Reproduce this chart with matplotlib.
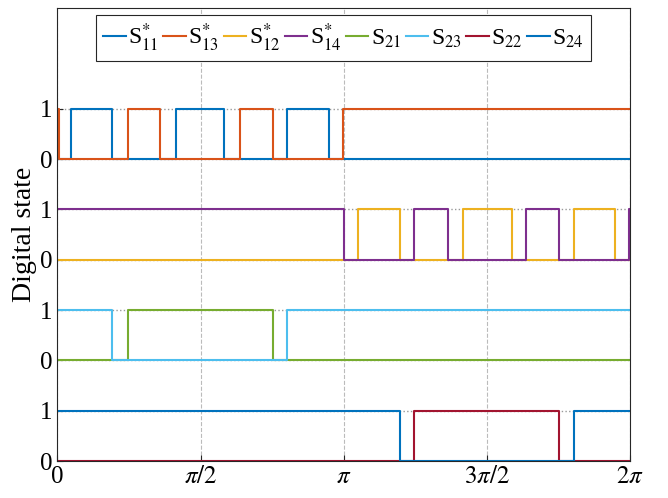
import numpy as np
import matplotlib.pyplot as plt

plt.rcParams['font.family'] = ['Liberation Serif', 'DejaVu Serif']
plt.rcParams['mathtext.fontset'] = 'stix'

# switching instants (rad) and the state held from each instant on
t_s11 = [0, 0.154, 0.604, 1.296, 1.823, 2.515, 2.977]
v_s11 = [0, 1, 0, 1, 0, 1, 0]
t_s13 = [0, 0.012, 0.769, 1.131, 1.999, 2.362, 3.130]
v_s13 = [1, 0, 1, 0, 1, 0, 1]
t_s12 = [0, 3.295, 3.757, 4.449, 4.987, 5.668, 6.118]
v_s12 = [0, 1, 0, 1, 0, 1, 0]
t_s14 = [0, 3.141, 3.910, 4.284, 5.141, 5.503, 6.272]
v_s14 = [1, 0, 1, 0, 1, 0, 1]
t_s21 = [0, 0.769, 2.362]
v_s21 = [0, 1, 0]
t_s23 = [0, 0.604, 2.515]
v_s23 = [1, 0, 1]
t_s22 = [0, 3.910, 5.503]
v_s22 = [0, 1, 0]
t_s24 = [0, 3.757, 5.668]
v_s24 = [1, 0, 1]

names = [r'S$_{11}^{*}$', r'S$_{13}^{*}$', r'S$_{12}^{*}$', r'S$_{14}^{*}$',
         r'S$_{21}$', r'S$_{23}$', r'S$_{22}$', r'S$_{24}$']
offsets = [6, 6, 4, 4, 2, 2, 0, 0]
colors = ['#0072BD', '#D95319', '#EDB120', '#7E2F8E',
          '#77AC30', '#4DBEEE', '#A2142F', '#0072BD']
times = [t_s11, t_s13, t_s12, t_s14, t_s21, t_s23, t_s22, t_s24]
states = [v_s11, v_s13, v_s12, v_s14, v_s21, v_s23, v_s22, v_s24]

xticks = [0, np.pi/2, np.pi, 3*np.pi/2, 2*np.pi]
xticklabels = ['0', r'$\pi/2$', r'$\pi$', r'$3\pi/2$', r'$2\pi$']

fig = plt.figure(figsize=(6.68, 4.98), dpi=100)
ax = fig.add_axes([0.086, 0.074, 0.857, 0.910])

for t, v, off, c, name in zip(times, states, offsets, colors, names):
    tt = np.append(t, 2*np.pi)
    vv = np.append(v, v[-1]) + off
    ax.step(tt, vv, where='post', color=c, lw=1.5, label=name)

ax.set_xlim(0, 2*np.pi)
ax.set_ylim(0, 9)
ax.set_xticks(xticks)
ax.set_xticklabels(xticklabels)
ax.set_yticks(range(8))
ax.set_yticklabels(['0', '1'] * 4)
ax.tick_params(labelsize=18, direction='in', length=4, color='#262626')
ax.set_ylabel('Digital state', fontsize=20, labelpad=2)

ax.xaxis.grid(True, ls='--', color='#bbbbbb', lw=0.8)
ax.yaxis.grid(True, ls=':', color='#999999', lw=1.0)
ax.set_axisbelow(True)
for s in ax.spines.values():
    s.set_color('#262626')

leg = ax.legend(loc='upper center', bbox_to_anchor=(0.5, 0.985), ncol=8,
                fontsize=17, handlelength=0.95, handletextpad=0.1,
                columnspacing=0.2, borderpad=0.3, borderaxespad=0,
                fancybox=False, framealpha=1, edgecolor='#262626')
leg.get_frame().set_linewidth(0.8)

fig.savefig('out.png', dpi=100)
